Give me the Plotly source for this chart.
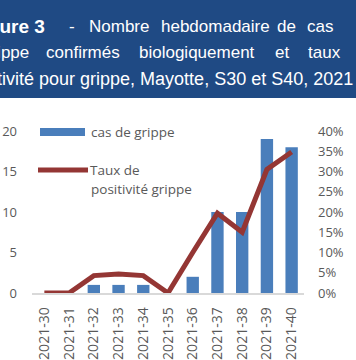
import plotly.graph_objects as go

# ---- data ----
semaines = ["2021-30", "2021-31", "2021-32", "2021-33", "2021-34", "2021-35",
            "2021-36", "2021-37", "2021-38", "2021-39", "2021-40"]
cas_grippe = [0, 0, 1, 1, 1, 0, 2, 10, 10, 19, 18]
taux_positivite = [0.0, 0.0, 0.043, 0.047, 0.043, 0.0, 0.10, 0.197, 0.15, 0.305, 0.348]
nom_barres = "cas de grippe"
nom_ligne_1 = "Taux de"
nom_ligne_2 = "positivité grippe"
y_ticks = [0, 5, 10, 15, 20]
y2_ticks = [0, 0.05, 0.10, 0.15, 0.20, 0.25, 0.30, 0.35, 0.40]

W, H = 356, 360
L, R, T, B = 32, 52, 131, 67
PW, PH = W - L - R, H - T - B

BAR_COL = "#4A7EBB"
LINE_COL = "#943634"
TXT_COL = "#595959"
BANNER = "#1F4A84"

def px(x):
    return (x - L) / PW

def py(y):
    return (H - B - y) / PH

fig = go.Figure()
fig.add_trace(go.Bar(x=semaines, y=cas_grippe, name=nom_barres,
                     marker=dict(color=BAR_COL, line=dict(width=0)),
                     yaxis="y", showlegend=False, hoverinfo="skip"))
fig.add_trace(go.Scatter(x=semaines, y=taux_positivite, name=nom_ligne_1 + " " + nom_ligne_2,
                         mode="lines", line=dict(color=LINE_COL, width=5),
                         yaxis="y2", showlegend=False, hoverinfo="skip"))

shapes = []
annotations = []

# title banner
shapes.append(dict(type="rect", xref="paper", yref="paper",
                   x0=px(-20), x1=px(W + 20), y0=py(98), y1=py(-20),
                   fillcolor=BANNER, line=dict(width=0), layer="below"))

TFAM = "Liberation Sans"
tfont = dict(family=TFAM, size=17, color="white")

def word(text, x, y, anchor="left", font=tfont):
    annotations.append(dict(text=text, xref="paper", yref="paper", x=px(x), y=py(y),
                            xanchor=anchor, yanchor="middle", showarrow=False, font=font))

# line 1
word("<b>Figure 3</b>", 47, 26, "right", dict(family=TFAM, size=19, color="white"))
word("-", 67, 26)
word("Nombre", 87, 26)
word("hebdomadaire", 159, 26)
word("de", 275, 26)
word("cas", 305, 26)
# line 2
word("grippe", 31, 52, "right")
word("confirmés", 44, 52)
word("biologiquement", 137, 52)
word("et", 273, 52)
word("taux", 306, 52)
# line 3
word("positivité pour grippe, Mayotte, S30 et S40, 2021", -38, 79,
     "left", dict(family=TFAM, size=18, color="white"))

# custom legend
shapes.append(dict(type="rect", xref="paper", yref="paper",
                   x0=px(40), x1=px(85), y0=py(136), y1=py(128),
                   fillcolor=BAR_COL, line=dict(width=0)))
shapes.append(dict(type="line", xref="paper", yref="paper",
                   x0=px(38), x1=px(88), y0=py(170), y1=py(170),
                   line=dict(color=LINE_COL, width=5)))
lfont = dict(family="Open Sans", size=13.5, color=TXT_COL)
for t, x, y in [(nom_barres, 89, 132), (nom_ligne_1, 88, 170), (nom_ligne_2, 89, 189)]:
    annotations.append(dict(text=t, xref="paper", yref="paper", x=px(x), y=py(y),
                            xanchor="left", yanchor="middle", showarrow=False, font=lfont))

tick_font = dict(family="Open Sans", size=13, color=TXT_COL)

fig.update_layout(
    width=W, height=H,
    margin=dict(l=L, r=R, t=T, b=B, pad=0, autoexpand=False),
    paper_bgcolor="white", plot_bgcolor="white",
    bargap=0.5,
    shapes=shapes, annotations=annotations,
    xaxis=dict(type="category", tickangle=-90, tickfont=dict(family="Open Sans", size=14, color=TXT_COL),
               showline=True, linecolor="#D9D9D9", linewidth=1.5, showgrid=False,
               ticks="", ticklabelstandoff=7, range=[-0.5, 10.5], automargin=False),
    yaxis=dict(range=[0, 20], tickvals=y_ticks, showgrid=False, zeroline=False,
               showline=False, ticks="", tickfont=tick_font, ticklabelstandoff=14, automargin=False),
    yaxis2=dict(range=[0, 0.4], tickvals=y2_ticks, tickformat=".0%", overlaying="y", side="right",
                showgrid=False, zeroline=False, showline=False, ticks="", tickfont=tick_font,
                ticklabelstandoff=13, automargin=False),
    showlegend=False,
    hovermode=False,
)

fig.write_html("out.html", config={"displayModeBar": False},
               post_script="document.body.style.margin='0';document.body.style.overflow='hidden';")
